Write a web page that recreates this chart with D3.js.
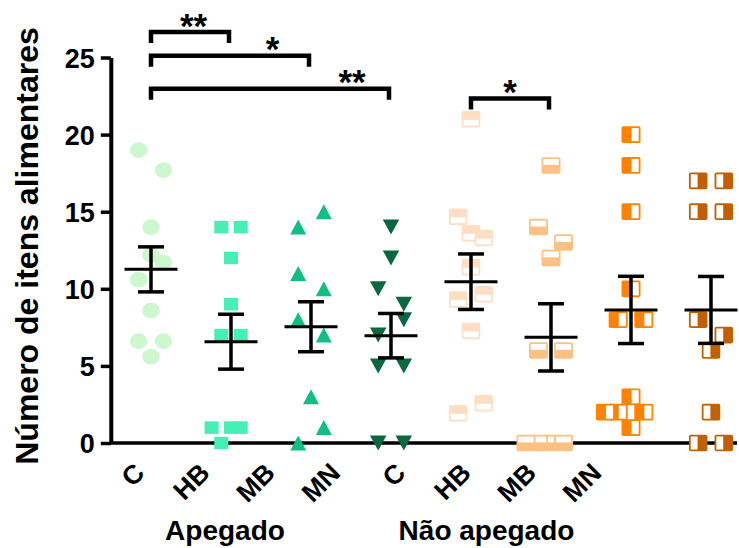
<!DOCTYPE html>
<html>
<head>
<meta charset="utf-8">
<script src="https://cdn.jsdelivr.net/npm/d3@7"></script>
<style>
    body { margin: 0; background: #fff; }
    text { font-family: "Liberation Sans", Arial, sans-serif; font-weight: bold; fill: #000; }
</style>
</head>
<body>
<svg id="chart" width="739" height="548"></svg>
<script>
// ---- data ----
const groups = ["Apegado", "Não apegado"];
const categories = ["C", "HB", "MB", "MN", "C", "HB", "MB", "MN"];
const yTicks = [0, 5, 10, 15, 20, 25];

// individual values, one list per column
const valsC   = [19, 17.7, 14, 12.2, 10.6, 11.7, 8.6, 5.6, 6.6, 6.6];
const valsHB  = [14, 14, 12, 9, 7, 7, 1, 0, 1, 1];
const valsMB  = [14, 15, 11, 10, 8, 7, 3, 0, 1];
const valsMN  = [14, 12, 10, 9, 7, 8, 5, 5, 0, 0];
const valsC2  = [21, 13.6, 14.67, 13.3, 11.4, 9.3, 9.65, 7.27, 1.93, 2.58];
const valsHB2 = [18, 14, 13, 12, 6, 6, 0, 0, 0, 0];
const valsMB2 = [20, 18, 15, 10, 8, 8, 3, 2, 2, 2, 1];
const valsMN2 = [17, 17, 15, 15, 8, 7, 6, 2, 0, 0];

// mean +/- SEM as drawn
const means = [11.26, 6.57, 7.54, 6.96, 10.46, 6.85, 8.63, 8.63];
const sems  = [1.46, 1.78, 1.62, 1.44, 1.8, 2.18, 2.18, 2.17];

// significance brackets
const bracketFrom  = [0, 0, 0, 4];
const bracketTo    = [1, 2, 3, 5];
const bracketLevel = [26.65, 25.11, 22.97, 22.34];
const bracketLabel = ["**", "*", "**", "*"];

// ---- drawing ----
const series = [valsC, valsHB, valsMB, valsMN, valsC2, valsHB2, valsMB2, valsMN2];
const keys = categories.map((c, i) => (i < 4 ? "A-" : "N-") + c);

const svg = d3.select("#chart");

const x = d3.scalePoint().domain(keys).range([151, 711]);
const labelX = d3.scalePoint().domain(keys).range([146, 603]);
const y = d3.scaleLinear().domain([0, 25]).range([443, 57.5]);
const axisX = 110.8;

const markerStyles = [
    {shape: "circle", fill: "#cdf8cd", w: 17.6, h: 15.8, step: 12.4},
    {shape: "square", fill: "#46f0b4", w: 14, h: 12.5, step: 9.7},
    {shape: "up", fill: "#10c080", w: 16, h: 15, step: 12.8},
    {shape: "down", fill: "#0a6840", w: 16.5, h: 15, step: 12.8},
    {shape: "half", side: "bottom", fill: "#ffdec4", w: 18.5, h: 16.5, step: 12.8},
    {shape: "half", side: "top", fill: "#ffc182", w: 19, h: 16.5, step: 12.5},
    {shape: "half", side: "right", fill: "#ff8200", w: 19, h: 16.7, step: 12.8},
    {shape: "half", side: "left", fill: "#c26000", w: 18.5, h: 16.7, step: 12.8}
];

// spread points that sit at similar heights side by side (column scatter)
function spread(vals, tol) {
    const order = d3.range(vals.length).sort((a, b) => vals[b] - vals[a] || a - b);
    const slot = new Array(vals.length).fill(0);
    let i = 0;
    while (i < order.length) {
        const start = vals[order[i]];
        let j = i;
        while (j < order.length && start - vals[order[j]] <= tol) j++;
        const row = order.slice(i, j).sort((a, b) => a - b);
        const seq = row.length === 2 ? [-1, 1] : [0, -1, 1, -2, 2, -3, 3];
        row.forEach((k, n) => slot[k] = seq[n]);
        i = j;
    }
    return slot;
}

// axes
svg.append("line")
    .attr("x1", axisX - 1).attr("x2", 737)
    .attr("y1", y(0)).attr("y2", y(0))
    .attr("stroke", "#000").attr("stroke-width", 3.6);

let yAxis = svg.append("g")
    .attr("transform", `translate(${axisX},0)`)
    .call(d3.axisLeft(y).tickValues(yTicks).tickSize(10).tickSizeOuter(0).tickPadding(6));
yAxis.attr("font-family", null).attr("font-size", null);
yAxis.select(".domain").attr("stroke-width", 4);
yAxis.selectAll(".tick line").attr("stroke-width", 3.5);
yAxis.selectAll(".tick text")
    .attr("font-size", 27)
    .attr("dy", "0.36em");

// points
let pts = svg.append("g");
series.forEach((vals, gi) => {
    const st = markerStyles[gi];
    const slots = spread(vals, 1.65);
    vals.forEach((v, k) => {
        const cx = x(keys[gi]) + slots[k] * st.step;
        const cy = y(v);
        const w = st.w, h = st.h;
        if (st.shape === "circle") {
            pts.append("ellipse")
                .attr("cx", cx).attr("cy", cy)
                .attr("rx", w / 2).attr("ry", h / 2)
                .attr("fill", st.fill);
        } else if (st.shape === "square") {
            pts.append("rect")
                .attr("x", cx - w / 2).attr("y", cy - h / 2)
                .attr("width", w).attr("height", h)
                .attr("fill", st.fill);
        } else if (st.shape === "up" || st.shape === "down") {
            const s = st.shape === "up" ? 1 : -1;
            pts.append("path")
                .attr("d", `M${cx - w / 2},${cy + s * h / 2}L${cx},${cy - s * h / 2}L${cx + w / 2},${cy + s * h / 2}Z`)
                .attr("fill", st.fill);
        } else {
            const b = 1.8;
            pts.append("rect")
                .attr("x", cx - w / 2).attr("y", cy - h / 2)
                .attr("width", w).attr("height", h)
                .attr("rx", 1.8)
                .attr("fill", st.fill);
            let wx = cx - w / 2 + b, wy = cy - h / 2 + b, ww = w - 2 * b, wh = h - 2 * b;
            if (st.side === "bottom") { wy = cy + 0.6; wh = h / 2 - b - 0.6; }
            if (st.side === "top") { wh = h / 2 - b - 0.6; }
            if (st.side === "right") { wx = cx + 0.6; ww = w / 2 - b - 0.6; }
            if (st.side === "left") { ww = w / 2 - b - 0.6; }
            pts.append("rect")
                .attr("x", wx).attr("y", wy)
                .attr("width", ww).attr("height", wh)
                .attr("fill", "#fff");
        }
    });
});

// mean and SEM
let bars = svg.append("g").attr("stroke", "#000");
keys.forEach((key, i) => {
    const cx = x(key);
    const top = y(means[i] + sems[i]), bot = y(means[i] - sems[i]);
    bars.append("line")
        .attr("x1", cx).attr("x2", cx).attr("y1", top).attr("y2", bot)
        .attr("stroke-width", 3.5);
    [top, bot].forEach(cy => {
        bars.append("line")
            .attr("x1", cx - 13).attr("x2", cx + 13).attr("y1", cy).attr("y2", cy)
            .attr("stroke-width", 3.5);
    });
    bars.append("line")
        .attr("x1", cx - 26.5).attr("x2", cx + 26.5)
        .attr("y1", y(means[i])).attr("y2", y(means[i]))
        .attr("stroke-width", 3);
});

// brackets with stars
const starAt = [0.545, 0.77, 0.845, 0.5];
let sig = svg.append("g");
bracketFrom.forEach((f, i) => {
    const x1 = x(keys[f]), x2 = x(keys[bracketTo[i]]) - 2;
    const ly = y(bracketLevel[i]);
    sig.append("path")
        .attr("d", `M${x1},${ly + 11}V${ly}H${x2}V${ly + 11}`)
        .attr("fill", "none")
        .attr("stroke", "#000")
        .attr("stroke-width", 4.5);
    sig.append("text")
        .attr("x", x1 + (x2 - x1) * starAt[i])
        .attr("y", ly + 5.5)
        .attr("text-anchor", "middle")
        .attr("font-size", 35)
        .text(bracketLabel[i]);
});

// category labels
svg.append("g").selectAll("text")
    .data(keys)
    .join("text")
    .attr("transform", d => `translate(${labelX(d)},474.5) rotate(-45)`)
    .attr("text-anchor", "end")
    .attr("font-size", 26.5)
    .text((d, i) => categories[i]);

// group labels
const groupX = [225, 486.5];
svg.append("g").selectAll("text")
    .data(groups)
    .join("text")
    .attr("x", (d, i) => groupX[i])
    .attr("y", 540)
    .attr("text-anchor", "middle")
    .attr("font-size", 28)
    .text(d => d);

// y title
svg.append("text")
    .attr("transform", "translate(37.5,246) rotate(-90)")
    .attr("text-anchor", "middle")
    .attr("font-size", 32)
    .text("Número de itens alimentares");
</script>
</body>
</html>
